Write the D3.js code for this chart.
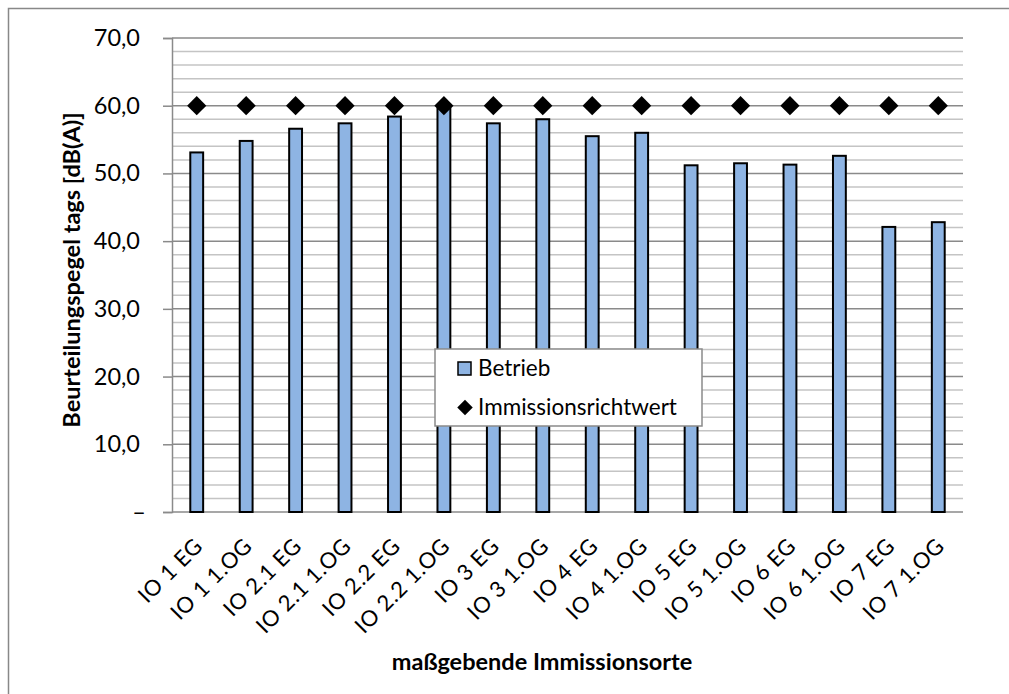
<!DOCTYPE html>
<html>
<head>
<meta charset="utf-8">
<script src="https://cdn.jsdelivr.net/npm/d3@7"></script>
<style>
  body { margin: 0; background: #fff; }
  svg { display: block; font-family: Lato, "Open Sans", sans-serif; }
</style>
</head>
<body>
<div id="svgOutput"></div>
<script>
// Data

const categories = ["IO 1 EG", "IO 1 1.OG", "IO 2.1 EG", "IO 2.1 1.OG", "IO 2.2 EG", "IO 2.2 1.OG",
  "IO 3 EG", "IO 3 1.OG", "IO 4 EG", "IO 4 1.OG", "IO 5 EG", "IO 5 1.OG",
  "IO 6 EG", "IO 6 1.OG", "IO 7 EG", "IO 7 1.OG"];
const betrieb = [53.1, 54.8, 56.6, 57.4, 58.4, 59.6, 57.4, 58.0, 55.5, 56.0, 51.2, 51.5, 51.3, 52.6, 42.1, 42.8];
const richtwert = [60, 60, 60, 60, 60, 60, 60, 60, 60, 60, 60, 60, 60, 60, 60, 60];
const yTicks = [0, 10, 20, 30, 40, 50, 60, 70];
const yMinor = [2, 4, 6, 8, 12, 14, 16, 18, 22, 24, 26, 28, 32, 34, 36, 38, 42, 44, 46, 48, 52, 54, 56, 58, 62, 64, 66, 68];
const seriesNames = ["Betrieb", "Immissionsrichtwert"];

(function () {
  document.addEventListener('DOMContentLoaded', function () {

    // Config

    const width = 1009;
    const height = 694;
    const margin = {
      "top": 38,
      "bottom": 182,
      "left": 172,
      "right": 46
    }
    const barColor = "#8eb4e3";

    const svg = d3.select("#svgOutput")
      .append("svg")
      .attr("width", width)
      .attr("height", height);

    // Outer frame (right and bottom edges fall off the picture)

    svg.append("rect")
      .attr("x", 8.5).attr("y", 8.5)
      .attr("width", 1100).attr("height", 800)
      .attr("fill", "none")
      .attr("stroke", "#888")
      .attr("stroke-width", 1.5);

    // Set up scales

    const xScale = d3.scaleBand()
      .domain(categories)
      .range([margin.left, width - margin.right])
      .padding(0);

    const yScale = d3.scaleLinear()
      .domain([0, 70])
      .range([height - margin.bottom, margin.top]);

    const cx = d => xScale(d) + xScale.bandwidth() / 2;

    // Gridlines

    svg.append("g")
      .selectAll("line")
      .data(yMinor)
      .join("line")
      .attr("x1", margin.left).attr("x2", width - margin.right)
      .attr("y1", d => yScale(d)).attr("y2", d => yScale(d))
      .attr("stroke", "#c4c4c4")
      .attr("stroke-width", 1.5);

    svg.append("g")
      .selectAll("line")
      .data(yTicks.filter(d => d > 0))
      .join("line")
      .attr("x1", margin.left).attr("x2", width - margin.right)
      .attr("y1", d => yScale(d)).attr("y2", d => yScale(d))
      .attr("stroke", "#8a8a8a")
      .attr("stroke-width", 1.5);

    // Axes

    const yAxis = d3.axisLeft(yScale)
      .tickValues(yTicks)
      .tickSize(9)
      .tickPadding(23)
      .tickFormat(d => d === 0 ? "–" : d3.format(".1f")(d).replace(".", ","));

    const gy = svg.append("g")
      .attr("transform", "translate(" + margin.left + ", 0)")
      .call(yAxis);

    gy.select(".domain").attr("stroke", "#8a8a8a").attr("stroke-width", 1.5);
    gy.selectAll(".tick line").attr("stroke", "#8a8a8a").attr("stroke-width", 1.5);
    gy.selectAll(".tick text")
      .attr("font-size", 23.5)
      .attr("fill", "#000")
      .attr("font-family", "Lato, sans-serif");
    gy.selectAll(".tick text").filter(d => d === 0).attr("dx", 6);

    const gx = svg.append("g")
      .attr("transform", "translate(0, " + (height - margin.bottom) + ")");

    gx.append("line")
      .attr("x1", margin.left).attr("x2", width - margin.right)
      .attr("stroke", "#8a8a8a")
      .attr("stroke-width", 1.5);

    gx.selectAll("text")
      .data(categories)
      .join("text")
      .attr("transform", d => "translate(" + (cx(d) + 2) + ", 30) rotate(-45)")
      .attr("text-anchor", "end")
      .attr("dy", "0.35em")
      .attr("font-size", 22)
      .attr("letter-spacing", 0.6)
      .text(d => d);

    // Bars

    const barWidth = xScale.bandwidth() * 0.26;

    svg.append("g")
      .selectAll("rect")
      .data(betrieb)
      .join("rect")
      .attr("x", (d, i) => cx(categories[i]) - barWidth / 2)
      .attr("y", d => yScale(d))
      .attr("width", barWidth)
      .attr("height", d => yScale(0) - yScale(d))
      .attr("fill", barColor)
      .attr("stroke", "#000")
      .attr("stroke-width", 2);

    // Diamonds

    const diamond = d3.symbol(d3.symbolSquare, 185);

    svg.append("g")
      .selectAll("path")
      .data(richtwert)
      .join("path")
      .attr("d", diamond)
      .attr("transform", (d, i) => "translate(" + cx(categories[i]) + "," + yScale(d) + ") rotate(45)")
      .attr("fill", "#000");

    // Legend

    const legend = svg.append("g").attr("transform", "translate(435, 349)");

    legend.append("rect")
      .attr("width", 267).attr("height", 77)
      .attr("fill", "#fff")
      .attr("stroke", "#8a8a8a")
      .attr("stroke-width", 1.5);

    legend.append("rect")
      .attr("x", 23).attr("y", 13)
      .attr("width", 13).attr("height", 13)
      .attr("fill", barColor)
      .attr("stroke", "#000")
      .attr("stroke-width", 1.5);

    legend.append("path")
      .attr("d", d3.symbol(d3.symbolSquare, 120))
      .attr("transform", "translate(30, 58.5) rotate(45)")
      .attr("fill", "#000");

    legend.selectAll("text")
      .data(seriesNames)
      .join("text")
      .attr("x", 43)
      .attr("y", (d, i) => 19.5 + i * 39)
      .attr("dy", "0.35em")
      .attr("font-size", 22.5)
      .text(d => d);

    // Axis titles

    svg.append("text")
      .attr("transform", "translate(72, 270) rotate(-90)")
      .attr("text-anchor", "middle")
      .attr("dy", "0.35em")
      .attr("font-size", 23.5)
      .attr("font-weight", "bold")
      .text("Beurteilungspegel tags [dB(A)]");

    svg.append("text")
      .attr("x", 542)
      .attr("y", 670)
      .attr("text-anchor", "middle")
      .attr("font-size", 23.5)
      .attr("font-weight", "bold")
      .text("maßgebende Immissionsorte");

  });
})();
</script>
</body>
</html>
